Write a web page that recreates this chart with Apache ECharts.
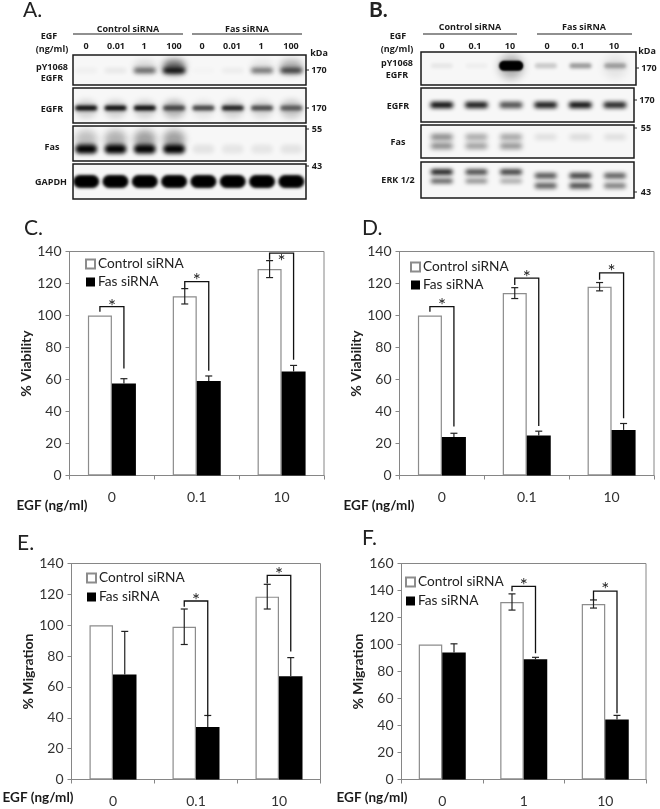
<!DOCTYPE html>
<html><head><meta charset="utf-8">
<style>html,body{margin:0;padding:0;background:#fff}#c{width:660px;height:809px}</style>
<script src="https://cdn.jsdelivr.net/npm/echarts@6/dist/echarts.min.js"></script>
</head><body><div id="c"></div>
<script>
// ---------- bar chart data ----------
const seriesNames = ['Control siRNA', 'Fas siRNA'];
const cCategories = ['0', '0.1', '10'];
const cControl = [100, 112, 129];
const cControlErr = [0, 4.8, 5.3];
const cFas = [57.5, 59, 65];
const cFasErr = [3, 3.2, 3.8];
const cBrackets = [[0, 102.3, 105.6, 66.9, 108], [1, 117, 121.2, 65.4, 124], [2, 134.8, 139, 72.3, 136]];

const dCategories = ['0', '0.1', '10'];
const dControl = [100, 114, 118];
const dControlErr = [0, 3.4, 2.6];
const dFas = [24, 25, 28.5];
const dFasErr = [2.4, 2.7, 4];
const dBrackets = [[0, 102.3, 105.6, 30.6, 108.5], [1, 119, 123.3, 31, 126], [2, 122.3, 126.7, 35.8, 129.5]];

const eCategories = ['0', '0.1', '10'];
const eControl = [100, 99, 118.5];
const eControlErr = [0, 11.5, 8];
const eFas = [68, 34, 67];
const eFasErr = [28, 7.5, 12];
const eBrackets = [[1, 112, 115.7, 41, 118.5], [2, 127, 132.3, 83, 135]];

const fCategories = ['0', '1', '10'];
const fControl = [100, 131.5, 130];
const fControlErr = [0, 6, 3];
const fFas = [94, 89, 44.5];
const fFasErr = [6.5, 1.5, 3];
const fBrackets = [[1, 139.5, 143, 93.5, 146.5], [2, 133, 139.5, 49, 143.5]];

// ---------- blot data (band darkness per lane) ----------
const aLanes = ['0', '0.01', '1', '100', '0', '0.01', '1', '100'];
const aPY = [0.04, 0.07, 0.6, 1, 0.02, 0.05, 0.55, 0.75];
const aPYSmear = [0, 0, 0.12, 0.6, 0, 0, 0.08, 0.3];
const aEGFR = [1, 1, 1, 0.7, 0.75, 0.9, 0.7, 0.6];
const aEGFRSmear = [0.15, 0.15, 0.15, 0.25, 0.08, 0.15, 0.12, 0.2];
const aFas = [1, 1, 1, 1, 0.08, 0.07, 0.07, 0.08];
const aFasSmear = [0.22, 0.28, 0.35, 0.35, 0, 0, 0, 0];
const aGAPDH = [1, 1, 1, 1, 1, 1, 1, 1];

const bLanes = ['0', '0.1', '10', '0', '0.1', '10'];
const bPY = [0.07, 0.04, 1, 0.2, 0.4, 0.35];
const bPYSmear = [0, 0, 0.3, 0, 0, 0.08];
const bEGFR = [1, 0.95, 0.72, 0.95, 1, 0.9];
const bFasUpper = [0.55, 0.4, 0.42, 0.12, 0.14, 0.12];
const bFasLower = [0.55, 0.45, 0.5, 0, 0, 0];
const bErkCtlUpper = [1, 0.8, 0.85, 0, 0, 0];
const bErkCtlLower = [0.75, 0.5, 0.38, 0, 0, 0];
const bErkFasUpper = [0, 0, 0, 0.75, 0.85, 0.7];
const bErkFasLower = [0, 0, 0, 0.7, 0.8, 0.55];

// ---------- layout ----------
const GREY = '#868686', INK = '#111', FONT = 'Lato', BLOT_FONT = '"Open Sans"';
const chartPanels = [
  {cats: cCategories, ctl: cControl, ctlE: cControlErr, fas: cFas, fasE: cFasErr, br: cBrackets, box: [69.5, 251.5, 254.5, 224], max: 140, step: 20, name: '% Viability', gap: 33, lg: [85, 257], lgGap: 4, bw: 24},
  {cats: dCategories, ctl: dControl, ctlE: dControlErr, fas: dFas, fasE: dFasErr, br: dBrackets, box: [399.5, 251.5, 254.5, 224], max: 140, step: 20, name: '% Viability', gap: 33, lg: [410, 260], lgGap: 4, bw: 24},
  {cats: eCategories, ctl: eControl, ctlE: eControlErr, fas: eFas, fasE: eFasErr, br: eBrackets, box: [71.5, 563.5, 249, 216], max: 140, step: 20, name: '% Migration', gap: 30, lg: [86, 571], lgGap: 5, bw: 23.5},
  {cats: fCategories, ctl: fControl, ctlE: fControlErr, fas: fFas, fasE: fFasErr, br: fBrackets, box: [401.5, 563.5, 244.5, 216], max: 160, step: 20, name: '% Migration', gap: 32, lg: [405, 575], lgGap: 5, bw: 23.5}
];
const row = (vals, y, w, h, blur) => ({vals, y, w, h, blur});
const blotPanels = [
  {box: [73, 55, 233, 30], range: [-0.45, 7.5], rows: [row(aPYSmear, 0.4, 22, 14, 7), row(aPY, 0.52, 22, 5, 4)]},
  {box: [73, 88, 233, 35], range: [-0.45, 7.5], rows: [row(aEGFRSmear, 0.6, 22, 18, 6), row(aEGFR, 0.57, 22, 5, 3.5)]},
  {box: [73, 126, 233, 35], range: [-0.45, 7.5], rows: [row(aFasSmear, 0.38, 22, 18, 7), row(aFas, 0.66, 22, 9, 4)]},
  {box: [73, 164, 233, 35], range: [-0.45, 7.5], rows: [row(aGAPDH, 0.5, 26, 13, 3)]},
  {box: [421, 52, 215, 33], range: [-0.6, 5.6], rows: [row(bPYSmear, 0.45, 24, 24, 9), row(bPY, 0.42, 22, 5, 3.5), row(bPY.map(v => v > 0.9 ? v : 0), 0.42, 24, 10, 2)]},
  {box: [421, 88, 213, 34], range: [-0.6, 5.55], rows: [row(bEGFR, 0.5, 23, 6, 4)]},
  {box: [421, 125, 213, 33], range: [-0.6, 5.55], rows: [row(bFasUpper, 0.36, 22, 5, 5), row(bFasLower, 0.64, 22, 5, 5)]},
  {box: [421, 162, 213, 36], range: [-0.6, 5.55], rows: [row(bErkCtlUpper, 0.28, 22, 5, 4), row(bErkCtlLower, 0.53, 22, 4, 4), row(bErkFasUpper, 0.38, 22, 5, 4), row(bErkFasLower, 0.66, 22, 5, 4)]}
];

// ---------- option assembly ----------
const grids = [], xAxes = [], yAxes = [], series = [], legends = [];
const line = (x1, y1, x2, y2, w, c) => ({type: 'line', shape: {x1, y1, x2, y2}, style: {stroke: c, lineWidth: w}});

chartPanels.forEach((p, i) => {
  const g = grids.length, BW = p.bw;
  grids.push({left: p.box[0], top: p.box[1], width: p.box[2], height: p.box[3], show: true, borderColor: GREY, borderWidth: 1, backgroundColor: '#fff'});
  xAxes.push({gridIndex: g, type: 'category', data: p.cats,
    axisLine: {lineStyle: {color: GREY}}, axisTick: {show: true, length: 4, lineStyle: {color: GREY}},
    axisLabel: {fontFamily: FONT, fontSize: 14, color: '#333', margin: 15}});
  yAxes.push({gridIndex: g, type: 'value', min: 0, max: p.max, interval: p.step,
    axisLine: {show: true, lineStyle: {color: GREY}}, axisTick: {show: true, length: 4, lineStyle: {color: GREY}},
    splitLine: {show: false}, axisLabel: {fontFamily: FONT, fontSize: 14, color: '#333', margin: 8},
    name: p.name, nameLocation: 'middle', nameGap: p.gap, nameTextStyle: {fontFamily: FONT, fontSize: 14, fontWeight: 'bold', color: '#222'}});
  const bar = (name, data, item) => ({type: 'bar', name, data, xAxisIndex: g, yAxisIndex: g, barWidth: BW, barGap: 0, itemStyle: item, animation: false, silent: true, z: 2});
  series.push(bar(seriesNames[0], p.ctl, {color: '#fff', borderColor: '#8c8c8c', borderWidth: 1.2}));
  series.push(bar(seriesNames[1], p.fas, {color: '#000'}));
  const errs = [];
  p.ctl.forEach((v, k) => { if (p.ctlE[k]) errs.push([k, v, p.ctlE[k], -1]); });
  p.fas.forEach((v, k) => { if (p.fasE[k]) errs.push([k, v, p.fasE[k], 1]); });
  series.push({type: 'custom', xAxisIndex: g, yAxisIndex: g, data: errs, encode: {x: 0, y: 1}, silent: true, animation: false, z: 6,
    renderItem: (_, api) => {
      const k = api.value(0), v = api.value(1), e = api.value(2), s = api.value(3);
      const hi = api.coord([k, v + e]), base = api.coord([k, v]), lo = api.coord([k, v - e]);
      const x = hi[0] + s * BW / 2, cap = 3.5;
      // the lower half of the Fas whisker lies inside its black bar, so only the upper half is drawn
      const parts = s > 0
        ? [line(x, hi[1], x, base[1], 1.2, '#222'), line(x - cap, hi[1], x + cap, hi[1], 1.2, '#222')]
        : [line(x, hi[1], x, lo[1], 1.2, '#222'), line(x - cap, hi[1], x + cap, hi[1], 1.2, '#222'), line(x - cap, lo[1], x + cap, lo[1], 1.2, '#222')];
      return {type: 'group', children: parts};
    }});
  series.push({type: 'custom', xAxisIndex: g, yAxisIndex: g, data: p.br, encode: {x: 0, y: 2}, silent: true, animation: false, z: 6,
    renderItem: (_, api) => {
      const k = api.value(0);
      const legEnd = api.coord([k, api.value(1)]), top = api.coord([k, api.value(2)]), end = api.coord([k, api.value(3)]), star = api.coord([k, api.value(4)]);
      const l = top[0] - BW / 2, r = top[0] + BW / 2;
      return {type: 'group', children: [
        {type: 'polyline', shape: {points: [[l, legEnd[1]], [l, top[1]], [r, top[1]], [r, end[1]]]}, style: {stroke: INK, lineWidth: 1.3, fill: null}},
        {type: 'text', style: {text: '*', x: top[0], y: star[1] + 4, font: '19px ' + FONT, fill: '#222', align: 'center', verticalAlign: 'middle'}}]};
    }});
  legends.push({show: true, data: seriesNames.map(name => ({name, icon: 'rect'})), orient: 'vertical', left: p.lg[0], top: p.lg[1], itemWidth: 9, itemHeight: 9, itemGap: p.lgGap, selectedMode: false, textStyle: {fontFamily: FONT, fontSize: 13.7, color: '#222', padding: [0, 0, 0, -2]}, padding: 0});
});

blotPanels.forEach(p => {
  const g = grids.length;
  grids.push({left: p.box[0], top: p.box[1], width: p.box[2], height: p.box[3], show: true, borderColor: '#1a1a1a', borderWidth: 1.5, backgroundColor: '#f7f7f7'});
  xAxes.push({gridIndex: g, type: 'value', min: p.range[0], max: p.range[1], show: false});
  yAxes.push({gridIndex: g, type: 'value', min: 0, max: 1, inverse: true, show: false, splitLine: {show: false}});
  const bands = [];
  p.rows.forEach(r => r.vals.forEach((d, k) => { if (d > 0) bands.push([k, r.y, d, r.w, r.h, r.blur]); }));
  series.push({type: 'custom', xAxisIndex: g, yAxisIndex: g, data: bands, encode: {x: 0, y: 1}, silent: true, animation: false,
    renderItem: (params, api) => {
      const c = api.coord([api.value(0), api.value(1)]), cs = params.coordSys, OFF = 1500;
      const w = api.value(3), h = api.value(4);
      return {type: 'rect', shape: {x: c[0] - w / 2 - OFF, y: c[1] - h / 2, width: w, height: h, r: h / 2},
        clipPath: {type: 'rect', shape: {x: cs.x, y: cs.y, width: cs.width, height: cs.height}},
        style: {fill: '#000', shadowColor: 'rgba(0,0,0,' + api.value(2) + ')', shadowBlur: api.value(5), shadowOffsetX: OFF}};
    }});
});

// ---------- free text ----------
const T = (text, x, y, o) => ({type: 'text', z: 50, style: Object.assign({text, x, y, align: 'center', verticalAlign: 'middle', fill: '#1a1a1a', font: 'bold 9px ' + BLOT_FONT}, o || {})});
const L = (x1, y1, x2, y2, w, c) => ({type: 'line', z: 50, silent: true, shape: {x1, y1, x2, y2}, style: {stroke: c || '#222', lineWidth: w || 1}});
const letter = (s, x, y, bold) => T(s, x, y, {align: 'left', font: (bold ? 'bold ' : '') + '21px ' + FONT, fill: '#222'});
const egf = (x, y) => T('EGF (ng/ml)', x, y, {font: 'bold 13.5px ' + FONT});
const aX = [86, 116, 144, 174, 202, 232, 261, 291], bX = [442, 475, 510, 547, 578, 614];
const elements = [
  letter('A.', 23, 10), letter('B.', 369, 10, true), letter('C.', 24, 228), letter('D.', 362, 228), letter('E.', 17, 543), letter('F.', 362, 538),
  egf(52, 506), egf(379, 506), egf(38, 798), egf(372, 798),
  // blot A
  T('Control siRNA', 128, 29), T('Fas siRNA', 247, 29), L(73, 34, 183, 34, 1.2), L(192, 34, 302, 34, 1.2),
  T('EGF', 49, 36), T('(ng/ml)', 52, 49),
  ...aLanes.map((s, i) => T(s, aX[i], 46)),
  T('kDa', 319, 53), T('170', 319, 70), T('170', 319, 108), T('55', 317, 129), T('43', 317, 166),
  T('pY1068', 52, 67), T('EGFR', 52, 78), T('EGFR', 52, 109), T('Fas', 52, 147), T('GAPDH', 51, 182),
  L(306, 70, 309, 70), L(306, 108, 309, 108), L(306, 129, 309, 129), L(306, 166, 309, 166),
  // blot B
  T('Control siRNA', 470, 27), T('Fas siRNA', 584, 27), L(423, 34, 517, 34, 1.2), L(537, 34, 632, 34, 1.2),
  T('EGF', 398, 36), T('(ng/ml)', 397, 49),
  ...bLanes.map((s, i) => T(s, bX[i], 46)),
  T('kDa', 647, 51), T('170', 649, 68), T('170', 647, 100), T('55', 646, 128), T('43', 646, 192),
  T('pY1068', 397, 63), T('EGFR', 397, 75), T('EGFR', 398, 106), T('Fas', 398, 142), T('ERK 1/2', 398, 180),
  L(636, 68, 639, 68), L(634, 100, 637, 100), L(634, 128, 637, 128), L(634, 192, 637, 192)
];

const chart = echarts.init(document.getElementById('c'), null, {renderer: 'canvas'});
chart.setOption({backgroundColor: '#fff', animation: false, grid: grids, xAxis: xAxes, yAxis: yAxes, series, legend: legends, graphic: {elements}});
</script></body></html>
